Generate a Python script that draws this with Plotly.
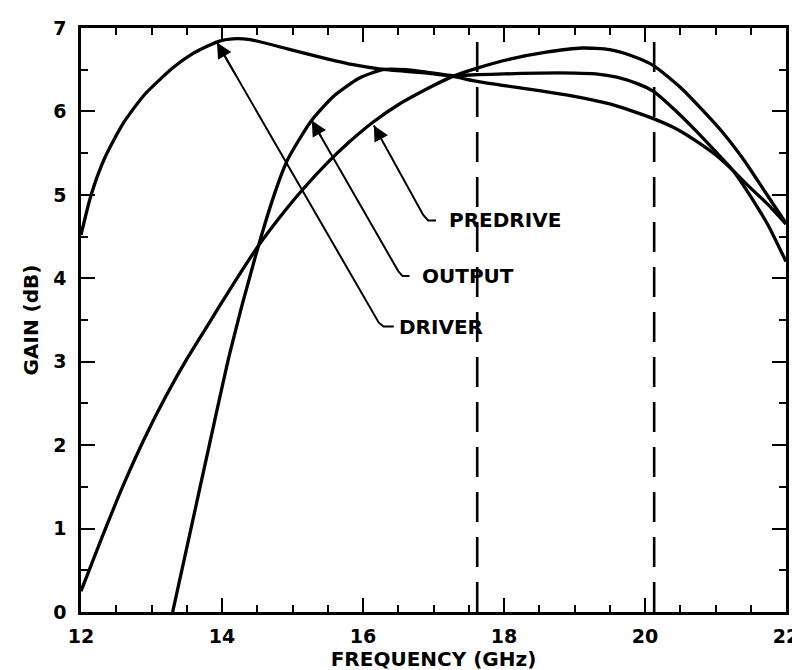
import plotly.graph_objects as go

# ---- data ----
driver_x = [12.0, 12.14, 12.33, 12.6, 12.9, 13.3, 13.58, 13.95, 14.15, 14.4, 14.93, 15.49, 15.86, 16.23,
            16.6, 17.0, 17.27, 17.62, 18.0, 18.5, 19.0, 19.5, 19.8, 20.1, 20.4, 20.7, 21.0, 21.25, 21.5, 21.75, 22.0]
driver_y = [4.52, 4.99, 5.43, 5.86, 6.20, 6.52, 6.69, 6.84, 6.87, 6.86, 6.75, 6.63, 6.56, 6.51,
            6.48, 6.45, 6.42, 6.36, 6.31, 6.25, 6.18, 6.09, 6.01, 5.92, 5.81, 5.66, 5.48, 5.29, 5.08, 4.88, 4.65]

output_x = [13.30, 13.56, 13.82, 14.11, 14.46, 14.74, 14.93, 15.26, 15.58, 15.95, 16.28, 16.6, 17.0, 17.27,
            17.62, 18.0, 18.5, 19.0, 19.3, 19.6, 19.9, 20.12, 20.42, 20.72, 21.0, 21.25, 21.5, 21.75, 22.0]
output_y = [0.0, 1.0, 2.0, 3.1, 4.22, 5.0, 5.42, 5.88, 6.18, 6.40, 6.50, 6.50, 6.46, 6.43,
            6.44, 6.45, 6.46, 6.46, 6.45, 6.41, 6.33, 6.24, 6.02, 5.77, 5.52, 5.29, 4.98, 4.63, 4.20]

predrive_x = [12.0, 12.3, 12.6, 12.9, 13.2, 13.5, 13.8, 14.1, 14.5, 14.8, 15.12, 15.49, 15.8, 16.14, 16.5,
              17.0, 17.27, 17.62, 18.1, 18.6, 19.1, 19.5, 19.8, 20.12, 20.5, 20.8, 21.1, 21.4, 21.7, 22.0]
predrive_y = [0.25, 0.90, 1.52, 2.08, 2.58, 3.03, 3.44, 3.85, 4.37, 4.71, 5.04, 5.38, 5.63, 5.87, 6.08,
              6.31, 6.42, 6.52, 6.63, 6.71, 6.76, 6.74, 6.67, 6.55, 6.29, 6.03, 5.75, 5.42, 5.04, 4.66]

band_edges = [17.62, 20.13]

labels = ["PREDRIVE", "OUTPUT", "DRIVER"]
label_tip_x = [16.154, 15.273, 13.929]
label_tip_y = [5.832, 5.892, 6.825]
label_corner_x = [16.854, 16.502, 16.224]
label_corner_y = [4.759, 4.083, 3.468]
label_bend_x = [16.924, 16.562, 16.291]
label_stub_x = [17.035, 16.659, 16.437]
label_y = [4.694, 4.026, 3.421]
label_text_x = [17.19, 16.81, 16.48]

x_ticks = [12, 14, 16, 18, 20, 22]
y_ticks = [0, 1, 2, 3, 4, 5, 6, 7]

FONT = "DejaVu Sans"
BLACK = "black"

fig = go.Figure()

for xs, ys in [(driver_x, driver_y), (output_x, output_y), (predrive_x, predrive_y)]:
    fig.add_trace(go.Scatter(x=xs, y=ys, mode="lines",
                             line=dict(color=BLACK, width=3.3, shape="spline", smoothing=0.6),
                             showlegend=False, hoverinfo="skip"))

for xe in band_edges:
    fig.add_trace(go.Scatter(x=[xe, xe], y=[0, 7], mode="lines",
                             line=dict(color=BLACK, width=2.6, dash="30px,15px"),
                             showlegend=False, hoverinfo="skip"))

# leader lines: tip -> corner -> rounded bend -> horizontal stub
for i in range(len(labels)):
    fig.add_trace(go.Scatter(
        x=[label_tip_x[i], label_corner_x[i], label_bend_x[i], label_stub_x[i]],
        y=[label_tip_y[i], label_corner_y[i], label_y[i], label_y[i]],
        mode="lines", line=dict(color=BLACK, width=2),
        showlegend=False, hoverinfo="skip"))
    # arrowhead only (short arrow along the leader direction)
    hx = label_tip_x[i] + 0.12 * (label_corner_x[i] - label_tip_x[i])
    hy = label_tip_y[i] + 0.12 * (label_corner_y[i] - label_tip_y[i])
    fig.add_annotation(x=label_tip_x[i], y=label_tip_y[i], ax=hx, ay=hy,
                       xref="x", yref="y", axref="x", ayref="y", text="", showarrow=True,
                       arrowhead=2, arrowsize=1.7, arrowwidth=1.8, arrowcolor=BLACK, standoff=0,
                       startstandoff=0)
    fig.add_annotation(x=label_text_x[i], y=label_y[i], xref="x", yref="y", text=labels[i],
                       showarrow=False, xanchor="left", yanchor="middle",
                       font=dict(family=FONT, size=20, color=BLACK, weight="bold"))

axis_common = dict(showline=True, linecolor=BLACK, linewidth=2.6, mirror="ticks",
                   ticks="inside", ticklen=14, tickwidth=2.2, tickcolor=BLACK,
                   showgrid=False, zeroline=False, ticklabeloverflow="allow",
                   tickfont=dict(family=FONT, size=19, color=BLACK, weight="bold"))

fig.update_xaxes(range=[12, 22], tickvals=x_ticks, ticktext=[str(v) for v in x_ticks],
                 minor=dict(dtick=0.5, ticklen=7, tickwidth=2, tickcolor=BLACK, ticks="inside", showgrid=False),
                 title=dict(text="FREQUENCY (GHz)", standoff=6,
                            font=dict(family=FONT, size=20, color=BLACK, weight="bold")),
                 ticklabelstandoff=5, **axis_common)
fig.update_yaxes(range=[0, 7], tickvals=y_ticks, ticktext=[str(v) for v in y_ticks],
                 minor=dict(dtick=0.5, ticklen=7, tickwidth=2, tickcolor=BLACK, ticks="inside", showgrid=False),
                 title=dict(text="GAIN (dB)", standoff=10,
                            font=dict(family=FONT, size=20, color=BLACK, weight="bold")),
                 ticklabelstandoff=8, **axis_common)

fig.update_layout(width=800, height=670, margin=dict(l=73, r=9, t=17, b=66),
                  paper_bgcolor="white", plot_bgcolor="white", showlegend=False)

fig.write_html("out.html")
